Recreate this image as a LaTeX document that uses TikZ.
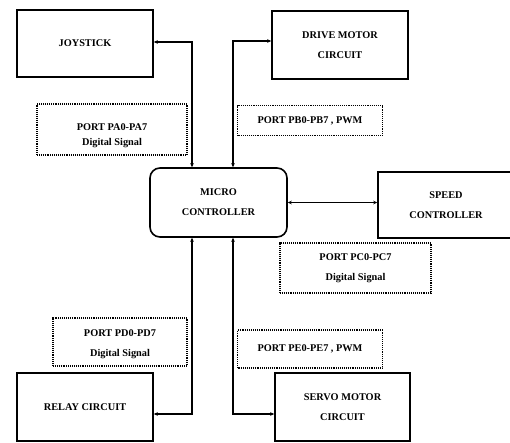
\documentclass[tikz,border=0pt]{standalone}
\usepackage{fontspec}
\setmainfont{Liberation Serif}
\usetikzlibrary{arrows.meta}
\begin{document}
\begin{tikzpicture}[x=1pt,y=-1pt,
  solidbox/.style={draw, line width=1.6pt, rectangle, inner sep=0pt, align=center,
    font=\bfseries\fontsize{10.3}{20}\selectfont},
  dotbox/.style={draw, line width=1.4pt, dash pattern=on 1pt off 0.9pt, rectangle, inner sep=0pt, align=center,
    font=\bfseries\fontsize{10.3}{20}\selectfont},
  lbl/.style={inner sep=0pt, align=center, font=\bfseries\fontsize{10.3}{15}\selectfont},
  conn/.style={line width=1.2pt, {Stealth[length=4pt,width=3.6pt]}-{Stealth[length=4pt,width=3.6pt]}}]
\useasboundingbox (0,0) rectangle (510,442);
% main blocks
\node[solidbox, minimum width=136pt, minimum height=67pt] (joy) at (85,43.5) {JOYSTICK};
\node[solidbox, minimum width=136pt, minimum height=68pt] (drive) at (340,45) {DRIVE MOTOR\\CIRCUIT};
\node[solidbox, rounded corners=10pt, minimum width=137pt, minimum height=69pt] (micro) at (218.5,202.5) {MICRO\\CONTROLLER};
\node[solidbox, minimum width=136pt, minimum height=66pt] (speed) at (446,205) {SPEED\\CONTROLLER};
\node[solidbox, minimum width=136pt, minimum height=68pt] (relay) at (85,407) {RELAY CIRCUIT};
\node[solidbox, minimum width=135pt, minimum height=68pt] (servo) at (342.5,407) {SERVO MOTOR\\CIRCUIT};
% port labels
\node[dotbox, minimum width=150pt, minimum height=51pt] (pa) at (112,129.5) {};
\node[lbl] (patext) at (112,135.5) {PORT PA0-PA7\\Digital Signal};
\node[dotbox, minimum width=145pt, minimum height=30pt] (pb) at (310,120.5) {PORT PB0-PB7 , PWM};
\node[dotbox, minimum width=151pt, minimum height=50pt] (pc) at (355.5,268) {PORT PC0-PC7\\Digital Signal};
\node[dotbox, minimum width=134pt, minimum height=48pt] (pd) at (120,342) {};
\node[lbl, font=\bfseries\fontsize{10.3}{20}\selectfont] (pdtext) at (120,344) {PORT PD0-PD7\\Digital Signal};
\node[dotbox, minimum width=145pt, minimum height=38pt] (pe) at (310,349) {PORT PE0-PE7 , PWM};
% connectors
\draw[conn] ([yshift=1.5pt]joy.east) -| ([xshift=-26.5pt]micro.north);
\draw[conn] ([xshift=14.5pt]micro.north) |- ([yshift=4pt]drive.west);
\draw[conn] (micro.east) -- (speed.west |- micro.east);
\draw[conn] ([yshift=-7pt]relay.east) -| ([xshift=-26.5pt]micro.south);
\draw[conn] ([xshift=14.5pt]micro.south) |- ([yshift=-7pt]servo.west);
\end{tikzpicture}
\end{document}
